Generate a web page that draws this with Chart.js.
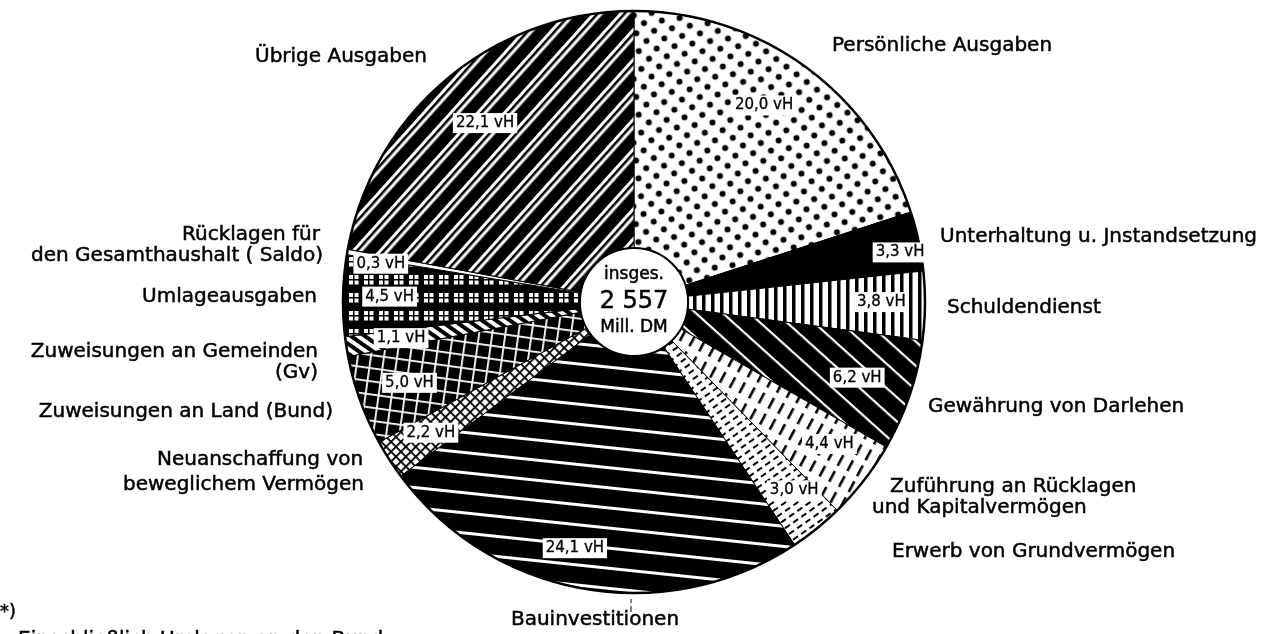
<!DOCTYPE html>
<html>
<head>
<meta charset="utf-8">
<script src="https://cdn.jsdelivr.net/npm/chart.js@4/dist/chart.umd.min.js"></script>
<style>
  html, body { margin: 0; padding: 0; background: #fff; }
  #chart { display: block; }
</style>
</head>
<body>
<canvas id="chart" width="1262" height="634"></canvas>
<script>
// clockwise from 12 o'clock
var categories = [
  'Persönliche Ausgaben',
  'Unterhaltung u. Jnstandsetzung',
  'Schuldendienst',
  'Gewährung von Darlehen',
  'Zuführung an Rücklagen\nund Kapitalvermögen',
  'Erwerb von Grundvermögen',
  'Bauinvestitionen',
  'Neuanschaffung von\nbeweglichem Vermögen',
  'Zuweisungen an Land (Bund)',
  'Zuweisungen an Gemeinden\n(Gv)',
  'Umlageausgaben',
  'Rücklagen für\nden Gesamthaushalt ( Saldo)',
  'Übrige Ausgaben'
];
var shares = [20.0, 3.3, 3.8, 6.2, 4.4, 3.0, 24.1, 2.2, 5.0, 1.1, 4.5, 0.3, 22.1];
var shareLabels = ['20,0 vH', '3,3 vH', '3,8 vH', '6,2 vH', '4,4 vH', '3,0 vH', '24,1 vH',
  '2,2 vH', '5,0 vH', '1,1 vH', '4,5 vH', '0,3 vH', '22,1 vH'];
var totalLines = ['insges.', '2 557', 'Mill. DM'];
var footnote = ['*)', 'Einschließlich Umlagen an den Bund'];

// where the text goes (layout only): [dx, dy, align, second line shift, line gap] from pie centre
var namePlaces = [
  [198, -256, 'left', 0, 21],
  [306, -65, 'left', 0, 21],
  [313, 6, 'left', 0, 21],
  [294, 105, 'left', 0, 21],
  [256, 185, 'left', -18, 21],
  [258, 250, 'left', 0, 21],
  [-39, 318, 'center', 0, 21],
  [-477, 158, 'left', -34, 25],
  [-301, 110, 'right', 0, 21],
  [-316, 50, 'right', 0, 21],
  [-317, -5, 'right', 0, 21],
  [-314, -67, 'right', 3, 21],
  [-379, -245, 'left', 0, 21]
];
// percent boxes: fraction of radius, angle nudge in degrees
var boxRadius = [0.81, 0.93, 0.85, 0.81, 0.83, 0.85, 0.87, 0.83, 0.82, 0.81, 0.84, 0.88, 0.80];
var boxNudge = [-2.5, 1.5, -0.7, 0, -1.8, -1.5, 3.6, 0, 0, 0, 0, -1.3, 0];

var FONT = '"DejaVu Sans", sans-serif';

function tile(w, h, draw) {
  var c = document.createElement('canvas');
  c.width = w;
  c.height = h;
  draw(c.getContext('2d'), w, h);
  return c;
}

function pattern(ctx, w, h, angle, draw) {
  var p = ctx.createPattern(tile(w, h, draw), 'repeat');
  if (angle) p.setTransform(new DOMMatrix().rotate(angle));
  return p;
}

function makeFills(ctx) {
  return [
    // dots
    pattern(ctx, 18, 18, -8, function(g) {
      g.fillStyle = '#fff'; g.fillRect(0, 0, 18, 18);
      g.fillStyle = '#000';
      g.beginPath(); g.arc(4.5, 4.5, 3, 0, Math.PI * 2); g.fill();
      g.beginPath(); g.arc(13.5, 13.5, 3, 0, Math.PI * 2); g.fill();
    }),
    '#000',
    // vertical bars
    pattern(ctx, 9, 4, 0, function(g) {
      g.fillStyle = '#fff'; g.fillRect(0, 0, 9, 4);
      g.fillStyle = '#000'; g.fillRect(0, 0, 3.5, 4);
    }),
    // black with thin white "\" lines
    pattern(ctx, 4, 18, 42, function(g) {
      g.fillStyle = '#000'; g.fillRect(0, 0, 4, 18);
      g.fillStyle = '#fff'; g.fillRect(0, 0, 4, 2.2);
    }),
    // long dashes
    pattern(ctx, 18, 11, -62, function(g) {
      g.fillStyle = '#fff'; g.fillRect(0, 0, 18, 11);
      g.fillStyle = '#000'; g.fillRect(0, 0, 12, 2.6);
    }),
    // short dashes
    pattern(ctx, 10, 7, -35, function(g) {
      g.fillStyle = '#fff'; g.fillRect(0, 0, 10, 7);
      g.fillStyle = '#000'; g.fillRect(0, 0, 6, 2);
    }),
    // black with white near-horizontal lines
    pattern(ctx, 4, 20, 6, function(g) {
      g.fillStyle = '#000'; g.fillRect(0, 0, 4, 20);
      g.fillStyle = '#fff'; g.fillRect(0, 0, 4, 3);
    }),
    // fine crosshatch
    pattern(ctx, 7, 7, 45, function(g) {
      g.fillStyle = '#fff'; g.fillRect(0, 0, 7, 7);
      g.fillStyle = '#000'; g.fillRect(0, 0, 7, 1.8); g.fillRect(0, 0, 1.8, 7);
    }),
    // black with white grid
    pattern(ctx, 13, 13, 8, function(g) {
      g.fillStyle = '#000'; g.fillRect(0, 0, 13, 13);
      g.fillStyle = '#fff'; g.fillRect(0, 0, 13, 1.8); g.fillRect(0, 0, 1.8, 13);
    }),
    // thick diagonal stripes
    pattern(ctx, 4, 8, 35, function(g) {
      g.fillStyle = '#fff'; g.fillRect(0, 0, 4, 8);
      g.fillStyle = '#000'; g.fillRect(0, 0, 4, 4);
    }),
    // windows
    pattern(ctx, 15, 18, 0, function(g) {
      g.fillStyle = '#000'; g.fillRect(0, 0, 15, 18);
      g.fillStyle = '#fff';
      g.fillRect(4, 5, 4, 4); g.fillRect(9.5, 5, 4, 4);
      g.fillRect(4, 10.5, 4, 4); g.fillRect(9.5, 10.5, 4, 4);
    }),
    '#fff',
    // black with paired white "/" lines
    pattern(ctx, 4, 20, -48, function(g) {
      g.fillStyle = '#000'; g.fillRect(0, 0, 4, 20);
      g.fillStyle = '#fff'; g.fillRect(0, 9, 4, 3); g.fillRect(0, 14.5, 4, 3);
    })
  ];
}

function heavyText(ctx, s, x, y) {
  ctx.fillText(s, x, y);
  ctx.strokeText(s, x, y);
}

var decor = {
  id: 'decor',
  afterDatasetsDraw: function(chart) {
    var ctx = chart.ctx;
    var arcs = chart.getDatasetMeta(0).data;
    var a0 = arcs[0];
    var cx = a0.x, cy = a0.y, R = a0.outerRadius, r = a0.innerRadius;
    var i, j;

    ctx.save();
    ctx.strokeStyle = '#000';
    ctx.lineWidth = 2.5;
    ctx.beginPath(); ctx.arc(cx, cy, R, 0, Math.PI * 2); ctx.stroke();
    ctx.fillStyle = '#fff';
    ctx.lineWidth = 2;
    ctx.beginPath(); ctx.arc(cx, cy, r, 0, Math.PI * 2); ctx.fill(); ctx.stroke();

    // total in the hole
    ctx.fillStyle = '#000';
    ctx.lineWidth = 0.5;
    ctx.textAlign = 'center';
    ctx.textBaseline = 'middle';
    ctx.font = '17px ' + FONT;
    heavyText(ctx, totalLines[0], cx, cy - 27);
    ctx.font = '24px ' + FONT;
    heavyText(ctx, totalLines[1], cx, cy);
    ctx.font = '17px ' + FONT;
    heavyText(ctx, totalLines[2], cx, cy + 26);

    // percent boxes
    ctx.font = '15px ' + FONT;
    ctx.lineWidth = 0.3;
    for (i = 0; i < arcs.length; i++) {
      var arc = arcs[i];
      var mid = (arc.startAngle + arc.endAngle) / 2 + boxNudge[i] * Math.PI / 180;
      var px = cx + Math.cos(mid) * R * boxRadius[i];
      var py = cy + Math.sin(mid) * R * boxRadius[i];
      var w = ctx.measureText(shareLabels[i]).width + 6;
      ctx.fillStyle = '#fff';
      ctx.fillRect(px - w / 2, py - 10, w, 20);
      ctx.fillStyle = '#000';
      heavyText(ctx, shareLabels[i], px, py);
    }

    // category names
    ctx.font = '20px ' + FONT;
    ctx.lineWidth = 0.5;
    for (i = 0; i < categories.length; i++) {
      var lines = categories[i].split('\n');
      var pl = namePlaces[i];
      ctx.textAlign = pl[2];
      for (j = 0; j < lines.length; j++) {
        heavyText(ctx, lines[j], cx + pl[0] + (j ? pl[3] : 0), cy + pl[1] + j * pl[4]);
      }
    }

    // small leader under the pie
    ctx.lineWidth = 1;
    ctx.beginPath();
    ctx.moveTo(cx - 3, cy + R + 6); ctx.lineTo(cx - 3, cy + R + 10);
    ctx.moveTo(cx - 3, cy + R + 13); ctx.lineTo(cx - 3, cy + R + 19);
    ctx.stroke();

    // footnote, cut by the page edge
    ctx.textAlign = 'left';
    ctx.textBaseline = 'alphabetic';
    ctx.lineWidth = 0.5;
    ctx.font = '18px ' + FONT;
    heavyText(ctx, footnote[0], 0, 617);
    ctx.font = '20px ' + FONT;
    heavyText(ctx, footnote[1], 18, 645);
    ctx.restore();
  }
};

var canvas = document.getElementById('chart');
var ctx = canvas.getContext('2d');

new Chart(ctx, {
  type: 'doughnut',
  data: {
    labels: categories,
    datasets: [{
      data: shares,
      backgroundColor: makeFills(ctx),
      borderColor: '#000',
      borderWidth: 1
    }]
  },
  options: {
    responsive: false,
    animation: false,
    cutout: 54,
    radius: 291,
    layout: { padding: { left: 6, top: 11, bottom: 41 } },
    plugins: {
      legend: { display: false },
      tooltip: { enabled: false }
    }
  },
  plugins: [decor]
});
</script>
</body>
</html>
